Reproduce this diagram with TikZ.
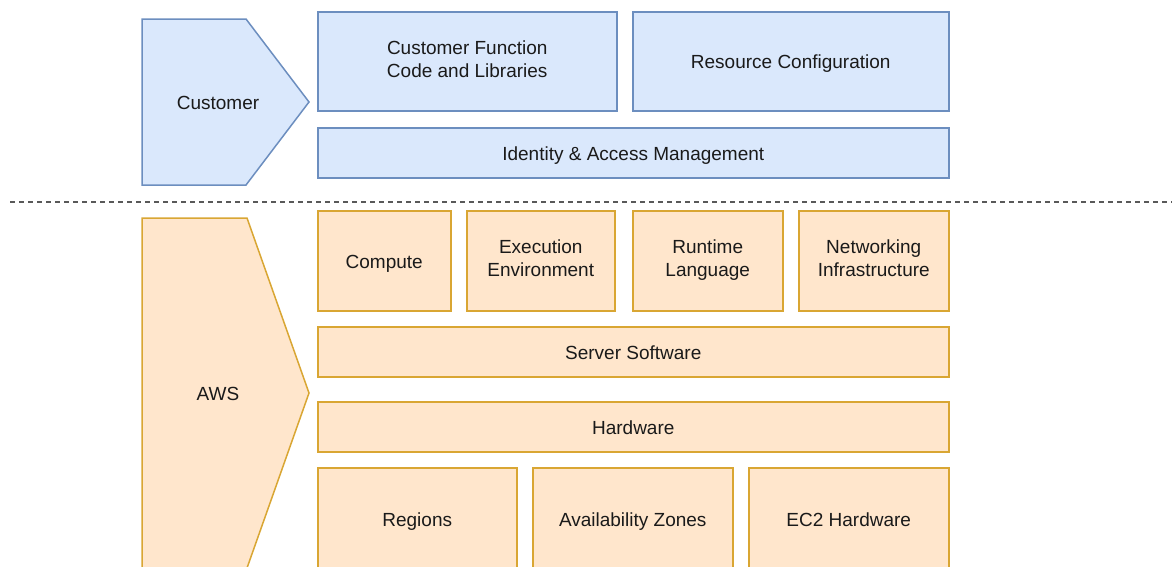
\documentclass[tikz,border=0pt]{standalone}
\usepackage{fontspec}
\setmainfont{Liberation Sans}
\usepackage{xcolor}
\definecolor{custfill}{HTML}{DAE8FC}
\definecolor{custline}{HTML}{6C8EBF}
\definecolor{awsfill}{HTML}{FFE6CC}
\definecolor{awsline}{HTML}{D9A633}
\definecolor{txt}{HTML}{1A1A1A}
\newcommand{\lblstrut}{\rule[-4.8pt]{0pt}{24.8pt}}

\begin{document}
\begin{tikzpicture}[x=1pt, y=-1pt,
	lbl/.style={text=txt, align=center, font=\fontsize{19}{23}\selectfont,
		execute at begin node=\lblstrut, execute at end node=\lblstrut},
	cbox/.style={lbl, draw=custline, fill=custfill, line width=1.5pt, inner sep=0pt, anchor=north west},
	abox/.style={cbox, draw=awsline, fill=awsfill}]
	\useasboundingbox (0,0) rectangle (1174,566);
	% customer side
	\draw[draw=custline, fill=custfill, line width=1.5pt] (142,19) -- (246,19) -- (309,102) -- (246,185) -- (142,185) -- cycle;
	\node[lbl] (customer) at (218,102) {Customer};
	\node[cbox, minimum width=299, minimum height=99] (code) at (317,11) {Customer Function\\Code and Libraries};
	\node[cbox, minimum width=316, minimum height=99] (config) at (632,11) {Resource Configuration};
	\node[cbox, minimum width=631, minimum height=50] (iam) at (317,127) {Identity \& Access Management};
	% split line
	\coordinate (splitL) at (10,202);
	\coordinate (splitR) at (1172,202);
	\draw[draw=black!65, line width=1.5pt, dash pattern=on 5pt off 4pt] (splitL) -- (splitR);
	% aws side
	\draw[draw=awsline, fill=awsfill, line width=1.5pt] (142,218) -- (247,218) -- (309,393) -- (247,568) -- (142,568) -- cycle;
	\node[lbl] (aws) at (218,393) {AWS};
	\node[abox, minimum width=133, minimum height=100] (compute) at (317,210) {Compute};
	\node[abox, minimum width=148, minimum height=100] (execenv) at (466,210) {Execution\\Environment};
	\node[abox, minimum width=150, minimum height=100] (runtime) at (632,210) {Runtime\\Language};
	\node[abox, minimum width=150, minimum height=100] (network) at (798,210) {Networking\\Infrastructure};
	\node[abox, minimum width=631, minimum height=50] (serversw) at (317,326) {Server Software};
	\node[abox, minimum width=631, minimum height=50] (hardware) at (317,401) {Hardware};
	\node[abox, minimum width=199, minimum height=102] (regions) at (317,467) {Regions};
	\node[abox, minimum width=200, minimum height=102] (azones) at (532,467) {Availability Zones};
	\node[abox, minimum width=200, minimum height=102] (ectwo) at (748,467) {EC2 Hardware};
\end{tikzpicture}
\end{document}
